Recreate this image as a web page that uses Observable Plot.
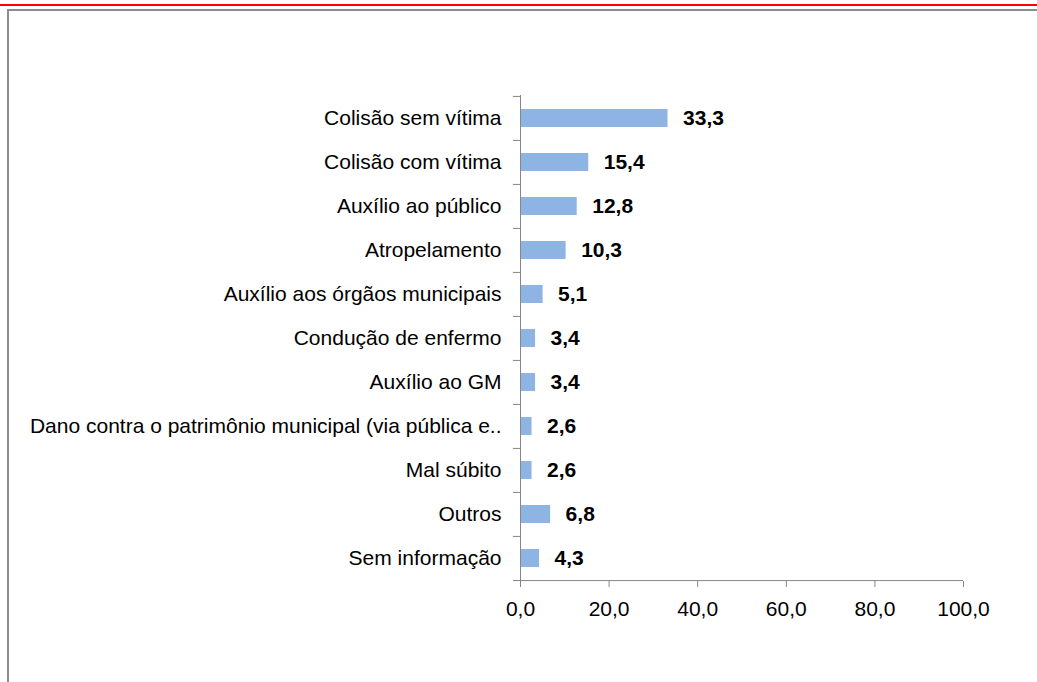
<!DOCTYPE html>
<html><head><meta charset="utf-8">
<script src="https://cdn.jsdelivr.net/npm/d3@7"></script>
<script src="https://cdn.jsdelivr.net/npm/@observablehq/plot@0.6"></script>
<style>
body{margin:0;background:#fff;}
#wrap{position:relative;width:1037px;height:682px;overflow:hidden;background:#fff;}
.red{position:absolute;left:0;top:4px;width:1037px;height:2px;background:#ff0000;}
.frame{position:absolute;left:7px;top:9px;width:1100px;height:700px;border-top:2px solid #8c8c8c;border-left:2px solid #8c8c8c;}
#chart{position:absolute;left:0;top:0;}
</style></head>
<body><div id="wrap"><div class="red"></div><div class="frame"></div><div id="chart"></div></div>
<script>
const categories = [
  "Colisão sem vítima",
  "Colisão com vítima",
  "Auxílio ao público",
  "Atropelamento",
  "Auxílio aos órgãos municipais",
  "Condução de enfermo",
  "Auxílio ao GM",
  "Dano contra o patrimônio municipal (via pública e..",
  "Mal súbito",
  "Outros",
  "Sem informação"
];
const values = [33.3, 15.4, 12.8, 10.3, 5.1, 3.4, 3.4, 2.6, 2.6, 6.8, 4.3];
const xTicks = [0, 20, 40, 60, 80, 100];
const xTickLabels = ["0,0", "20,0", "40,0", "60,0", "80,0", "100,0"];

const data = categories.map((c, i) => ({category: c, value: values[i]}));
const fmt = v => v.toFixed(1).replace(".", ",");
const step = (581 - 95) / categories.length;
const gray = "#868686";

const chart = Plot.plot({
  width: 1037, height: 682,
  marginLeft: 520, marginRight: 74, marginTop: 95, marginBottom: 101,
  style: {fontFamily: "'Liberation Sans', Arial, sans-serif", fontSize: "21px", color: "#000", background: "transparent", overflow: "visible"},
  x: {domain: [0, 100], label: null},
  y: {domain: categories, padding: 0, label: null},
  marks: [
    Plot.barX(data, {x: "value", y: "category", fill: "#8eb4e3", insetTop: 13, insetBottom: 13}),
    Plot.ruleX([0], {stroke: gray}),
    Plot.ruleY(categories, {y: d => d, x1: -1.6, x2: 0, dy: -step / 2, stroke: gray}),
    Plot.ruleY([categories[categories.length - 1]], {y: d => d, x1: -1.6, x2: 100, dy: step / 2, stroke: gray}),
    Plot.axisX(xTicks, {tickSize: 6, tickPadding: 14, stroke: gray, fill: "#000", label: null,
      tickFormat: d => xTickLabels[xTicks.indexOf(d)]}),
    Plot.axisY({tickSize: 0, tickPadding: 19, fill: "#000", label: null}),
    Plot.text(data, {x: "value", y: "category", text: d => fmt(d.value), dx: 15, textAnchor: "start", fontWeight: "bold", fill: "#000"})
  ]
});
document.getElementById("chart").appendChild(chart);
</script>
</body></html>
